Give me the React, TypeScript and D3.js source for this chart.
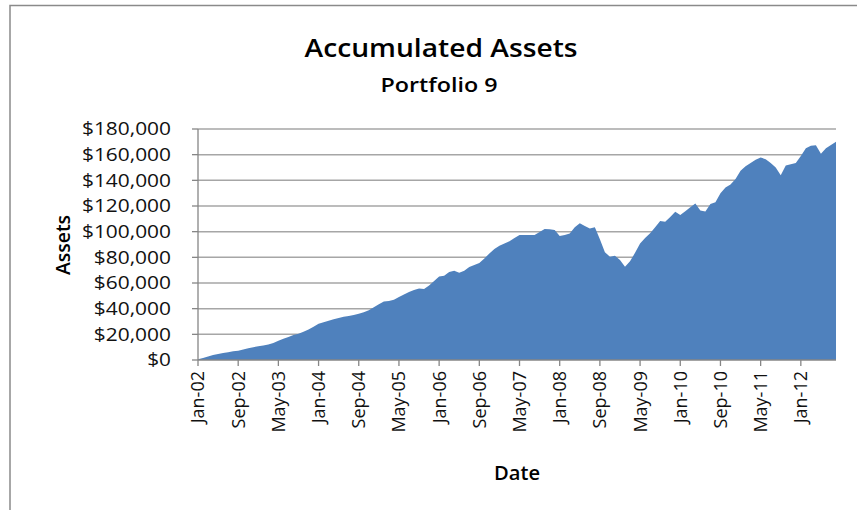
import React from "react";
import * as d3 from "d3";

const title = "Accumulated Assets";
const subtitle = "Portfolio 9";
const xTitle = "Date";
const yTitle = "Assets";

// Monthly, starting Jan-2002 (128 months to Aug-2012), values in dollars
const startYear = 2002;
const startMonth = 0;
const assets: number[] = [
  500, 1500, 2800, 3800, 4600, 5400, 6100, 6800, 7300, 8200,
  9200, 10000, 10700, 11300, 12000, 13300, 15000, 16500, 18000, 19500,
  20500, 22000, 23800, 26000, 28200, 29500, 30500, 31700, 32700, 33700,
  34300, 35000, 36000, 37200, 38800, 41200, 43500, 45500, 46000, 47000,
  49000, 51000, 53000, 54500, 55800, 55300, 58000, 61500, 65000, 65700,
  68500, 69600, 68000, 69500, 72500, 74000, 75500, 79000, 83000, 86500,
  89000, 90800, 92500, 95000, 97400, 97400, 97400, 97500, 99800, 102000,
  101800, 101300, 96600, 97500, 98600, 103500, 106500, 104500, 102400, 103500,
  94000, 84000, 80500, 81300, 77900, 72700, 77000, 83500, 90800, 95000,
  98700, 103500, 108300, 107800, 111500, 115500, 113000, 115900, 119000, 122000,
  116400, 115800, 121500, 123000, 130000, 134500, 136800, 141000, 147500, 151000,
  153500, 156000, 157800, 156500, 153500, 150000, 144000, 151500, 152500, 153500,
  159000, 165000, 167000, 167300, 160800, 165000, 167500, 170000,
];
const yTicks: number[] = [0, 20000, 40000, 60000, 80000, 100000, 120000, 140000, 160000, 180000];
const tickEvery = 8;

const FONT = "'Open Sans', 'Noto Sans', sans-serif";

export default function App() {
  const W = 857, H = 510;
  const left = 198, right = 836, top = 129, bottom = 360;
  const dates = assets.map((_, i) => new Date(startYear, startMonth + i, 1));
  const x = d3.scaleLinear().domain([0, assets.length - 1]).range([left, right]);
  const y = d3.scaleLinear().domain([0, 180000]).range([bottom, top]);
  const area = d3
    .area<number>()
    .x((_, i) => x(i))
    .y0(y(0))
    .y1((d) => y(d));
  const fmtY = (v: number) => "$" + d3.format(",")(v);
  const fmtX = d3.timeFormat("%b-%y");
  const xTickIdx = d3.range(0, assets.length, tickEvery);
  const digitW = 11.87;
  const labelLen = (s: string) => {
    let w = 0;
    for (const c of s) w += c === "," ? digitW * 0.5 : digitW;
    return w;
  };

  return (
    <div style={{ position: "absolute", left: 0, top: 0 }}>
      <svg width={W} height={H} style={{ display: "block", background: "#fff" }}>
        <rect x={10} y={5.5} width={900} height={600} fill="none" stroke="#8a8a8a" strokeWidth={1.5} />
        <text x={441} y={57} textAnchor="middle" fontFamily={FONT} fontWeight={600} fontSize={26}
          textLength={273} lengthAdjust="spacingAndGlyphs" fill="#000">{title}</text>
        <text x={439} y={92} textAnchor="middle" fontFamily={FONT} fontWeight={600} fontSize={19}
          textLength={117} lengthAdjust="spacingAndGlyphs" fill="#000">{subtitle}</text>

        {yTicks.filter((t) => t > 0).map((t) => (
          <line key={"g" + t} x1={left} x2={right} y1={y(t)} y2={y(t)} stroke="#a6a6a6" strokeWidth={1.5} />
        ))}

        <path d={area(assets) || ""} fill="#4f81bd" />

        <line x1={left} x2={left} y1={top} y2={bottom} stroke="#868686" strokeWidth={1.3} />
        <line x1={left} x2={right} y1={bottom} y2={bottom} stroke="#868686" strokeWidth={1.3} />
        {yTicks.map((t) => (
          <g key={"yt" + t}>
            <line x1={left - 6} x2={left} y1={y(t)} y2={y(t)} stroke="#868686" strokeWidth={1.3} />
            <text x={171} y={y(t)} dy="0.36em" textAnchor="end" fontFamily={FONT} fontSize={17.5}
              textLength={labelLen(fmtY(t))} lengthAdjust="spacingAndGlyphs" fill="#111">{fmtY(t)}</text>
          </g>
        ))}
        {xTickIdx.map((i) => (
          <g key={"xt" + i}>
            <line x1={x(i)} x2={x(i)} y1={bottom} y2={bottom + 6} stroke="#868686" strokeWidth={1.3} />
            <text transform={`translate(${x(i)},${bottom + 11}) rotate(-90)`} dy="0.36em" textAnchor="end"
              fontFamily={FONT} fontSize={18} fill="#111">{fmtX(dates[i])}</text>
          </g>
        ))}
        <text x={517} y={480} textAnchor="middle" fontFamily={FONT} fontWeight={600} fontSize={20}
          textLength={46} lengthAdjust="spacingAndGlyphs" fill="#000">{xTitle}</text>
        <text transform="translate(70,245) rotate(-90)" textAnchor="middle" fontFamily={FONT} fontWeight={600}
          fontSize={19} textLength={60} lengthAdjust="spacingAndGlyphs" fill="#000">{yTitle}</text>
      </svg>
    </div>
  );
}
